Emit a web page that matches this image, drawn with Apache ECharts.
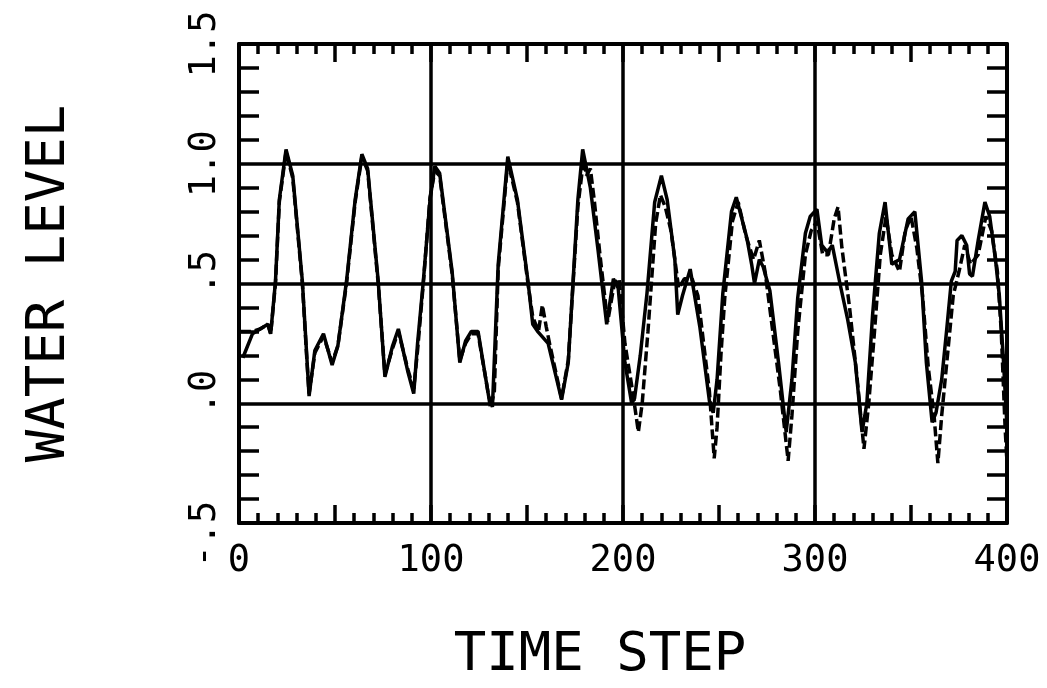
<!DOCTYPE html>
<html>
<head>
<meta charset="utf-8">
<script src="https://cdn.jsdelivr.net/npm/echarts@6/dist/echarts.min.js"></script>
<style>
html,body{margin:0;padding:0;background:#fff;}
#chart{width:1047px;height:688px;}
</style>
</head>
<body>
<div id="chart"></div>
<script>
// ---- data ----
const solidT = [2,7,11,15,16.5,19,21,24.5,28,33,35.5,36.5,39.5,44,48.5,51.5,56,60.5,64,67,72.5,76,80,83,88,91,93,96,99.5,102,104.5,111,115,118,121,124.5,130,132,135,140,145,150.5,153,155.5,161,168,171.5,174,176.5,179,183,187,191.5,195,197.5,201,204.5,206,209,212.5,216.5,220,223,227,228.5,231,235,240,245,247,249,252,256.5,259,264.5,267,268.5,271,273,276.5,281,285,288,291,295,297.5,301,303.5,306.5,309,313,317,321,324.5,327,330,333.5,336.5,340,344,348.5,352,355.5,358,361,363,366,368.5,371,373,374,376.5,379,380.5,382,385,388.5,391,394,396,398,400];
const solidV = [0.19,0.29,0.31,0.33,0.29,0.51,0.85,1.06,0.95,0.51,0.17,0.03,0.22,0.29,0.16,0.24,0.51,0.85,1.04,0.98,0.51,0.11,0.24,0.31,0.13,0.04,0.25,0.51,0.85,0.99,0.96,0.55,0.17,0.26,0.30,0.30,0.03,-0.015,0.58,1.03,0.85,0.51,0.33,0.30,0.25,0.015,0.17,0.51,0.85,1.06,0.90,0.64,0.33,0.52,0.48,0.17,0.0,0.02,0.20,0.46,0.84,0.95,0.85,0.60,0.37,0.45,0.56,0.32,0.01,-0.04,0.10,0.46,0.80,0.86,0.69,0.58,0.50,0.60,0.57,0.47,0.17,-0.12,0.10,0.44,0.71,0.78,0.81,0.66,0.63,0.66,0.50,0.35,0.17,-0.12,0.0,0.37,0.71,0.84,0.58,0.60,0.77,0.80,0.51,0.17,-0.08,-0.04,0.10,0.30,0.51,0.55,0.68,0.70,0.66,0.54,0.53,0.68,0.84,0.78,0.60,0.45,0.20,-0.10];
const dashT = [1,7,11,15,16.5,19,21,24.5,28,33,35.5,36.5,39.5,44,48.5,51.5,56,60.5,64,67,72.5,76,80,83,88,91,93,96,99.5,102,104.5,111,115,118,121,124.5,129,131,133,135,140,145,150.5,153,156,158,160,162,168,171.5,174,176.5,179.5,181,183,185,188,192,195.5,198,201,205,208,210,213,217,219.5,222,225,229,232,236,239,242,245,247.5,249,251,253,257,260,264,268,271,274,278,282,286,288,291,295,298,301,304,307,310,312,314,318,322,325.5,328,331,334,337,340,344,347,350,353,356,359,362,364,366,369,372,375,378,381,385,389,392,395,397,399,400];
const dashV = [0.30,0.30,0.31,0.33,0.29,0.50,0.84,1.05,0.94,0.50,0.16,0.04,0.21,0.28,0.17,0.24,0.50,0.84,1.03,0.97,0.50,0.12,0.23,0.30,0.14,0.06,0.22,0.50,0.86,0.97,0.95,0.54,0.18,0.25,0.29,0.29,0.08,-0.02,0.05,0.56,1.01,0.84,0.50,0.36,0.30,0.41,0.32,0.24,0.02,0.18,0.50,0.82,1.02,0.95,0.98,0.85,0.62,0.34,0.50,0.52,0.25,0.05,-0.12,0.0,0.30,0.75,0.87,0.82,0.72,0.48,0.52,0.52,0.45,0.25,0.05,-0.23,-0.10,0.20,0.44,0.76,0.84,0.70,0.60,0.68,0.55,0.30,0.05,-0.24,-0.05,0.30,0.62,0.72,0.76,0.62,0.62,0.77,0.82,0.65,0.40,0.10,-0.19,0.0,0.30,0.62,0.78,0.62,0.55,0.72,0.78,0.65,0.45,0.15,-0.05,-0.25,-0.05,0.20,0.45,0.55,0.66,0.58,0.62,0.78,0.72,0.55,0.30,-0.10,-0.25];
const yTickValues = [-0.5, 0, 0.5, 1.0, 1.5];
const yTickLabels = ['-.5 ', ' .0', ' .5', '1.0', '1.5'];
const xTitle = 'TIME STEP';
const yTitle = 'WATER LEVEL';

const solidData = solidT.map((t, i) => [t, solidV[i]]);
const dashData = dashT.map((t, i) => [t, dashV[i]]);

const FONT = 'DejaVu Sans Mono';
const BLACK = '#000';

function yLabel(v) {
  for (let i = 0; i < yTickValues.length; i++) {
    if (Math.abs(yTickValues[i] - v) < 1e-6) return yTickLabels[i];
  }
  return '';
}

const chart = echarts.init(document.getElementById('chart'));
const tickX = {
  min: 0, max: 400, interval: 50,
  axisLine: { show: true, onZero: false, lineStyle: { color: BLACK, width: 4 } },
  axisTick: { show: true, inside: true, length: 18, lineStyle: { color: BLACK, width: 3.5 } },
  minorTick: { show: true, splitNumber: 5, length: 10, lineStyle: { color: BLACK, width: 3.5 } },
  splitLine: { show: false }
};
const tickY = {
  min: -0.5, max: 1.5, interval: 0.5,
  axisLine: { show: true, onZero: false, lineStyle: { color: BLACK, width: 4 } },
  axisTick: { show: false, inside: true },
  minorTick: { show: true, splitNumber: 5, length: 20, lineStyle: { color: BLACK, width: 3.5 } }
};

chart.setOption({
  animation: false,
  backgroundColor: '#fff',
  grid: { left: 239, right: 40, top: 44, bottom: 158, containLabel: false },
  xAxis: [
    Object.assign({}, tickX, {
      type: 'value', position: 'bottom',
      name: xTitle, nameLocation: 'middle', nameGap: 106,
      nameTextStyle: { fontFamily: FONT, fontSize: 54, color: BLACK, padding: [0, 46, 0, 0] },
      axisLabel: {
        show: true, margin: 20, fontFamily: FONT, fontSize: 37, color: BLACK,
        formatter: v => (v % 100 === 0 ? String(v) : '')
      }
    }),
    Object.assign({}, tickX, {
      type: 'value', position: 'top', axisLabel: { show: false }
    }),
    {
      type: 'value', position: 'bottom', min: 0, max: 400, interval: 100,
      axisLine: { show: false }, axisTick: { show: false }, axisLabel: { show: false },
      splitLine: { show: true, lineStyle: { color: BLACK, width: 3.5 } }
    }
  ],
  yAxis: [
    Object.assign({}, tickY, {
      type: 'value', position: 'left',
      name: yTitle, nameLocation: 'middle', nameGap: 162, nameRotate: 90,
      nameTextStyle: { fontFamily: FONT, fontSize: 54, color: BLACK },
      splitLine: { show: true, lineStyle: { color: BLACK, width: 3.5 } },
      axisLabel: {
        show: true, rotate: 90, margin: 15, fontFamily: FONT, fontSize: 37, color: BLACK,
        formatter: yLabel
      }
    }),
    Object.assign({}, tickY, {
      type: 'value', position: 'right',
      splitLine: { show: false }, axisLabel: { show: false }
    })
  ],
  series: [
    {
      type: 'line', xAxisIndex: 0, yAxisIndex: 0, data: solidData,
      showSymbol: false, symbol: 'none',
      lineStyle: { color: BLACK, width: 3.5, type: 'solid' }
    },
    {
      type: 'line', xAxisIndex: 0, yAxisIndex: 0, data: dashData,
      showSymbol: false, symbol: 'none',
      lineStyle: { color: BLACK, width: 3.5, type: [10, 4] }
    }
  ]
});
</script>
</body>
</html>
